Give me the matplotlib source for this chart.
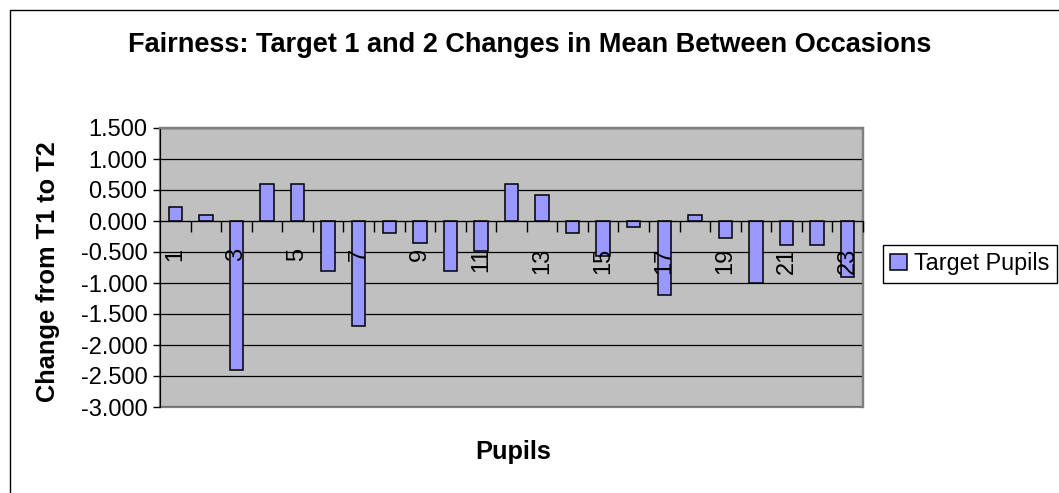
import matplotlib
matplotlib.use("Agg")
import matplotlib.pyplot as plt
import matplotlib.patches as mpatches
from matplotlib.ticker import FixedLocator, FuncFormatter

plt.rcParams["font.family"] = ["Liberation Sans", "DejaVu Sans"]

# change in mean score from occasion 1 to occasion 2, per pupil
pupils = list(range(1, 24))
change = [0.22, 0.10, -2.40, 0.60, 0.60, -0.80, -1.70, -0.20, -0.36, -0.80, -0.48, 0.60,
          0.42, -0.20, -0.57, -0.10, -1.20, 0.10, -0.28, -1.00, -0.38, -0.38, -0.90]
series_name = "Target Pupils"
y_ticks = [1.5, 1.0, 0.5, 0.0, -0.5, -1.0, -1.5, -2.0, -2.5, -3.0]

W, H = 1059, 493
fig = plt.figure(figsize=(W / 100, H / 100), dpi=100)

# chart area frame (open to the right and bottom)
fig.patches.append(mpatches.Rectangle((10 / W, -0.2), 1.2, 1.2 - 10 / H, transform=fig.transFigure,
                                      fill=False, ec="black", lw=1.0))

ax = fig.add_axes([160 / W, 1 - 407 / H, 703 / W, 279 / H])
ax.set_facecolor("#C0C0C0")

bars = ax.bar(pupils, change, width=0.44, color="#9999FF", edgecolor="black",
              linewidth=1.1, zorder=3, label=series_name)

ax.set_xlim(0.5, 23.5)
ax.set_ylim(-3.0, 1.5)

# gridlines sit behind the bars, axis labels in front
for yv in y_ticks:
    ax.axhline(yv, color="black", linewidth=0.9, zorder=1)
ax.xaxis.set_zorder(5)

# value axis
ax.yaxis.set_major_locator(FixedLocator(y_ticks))
ax.yaxis.set_major_formatter(FuncFormatter(lambda v, _: f"{v:.3f}"))
ax.tick_params(axis="y", direction="out", length=5, width=1, color="black",
               labelsize=17, pad=4)

# category axis crosses at zero
ax.spines["bottom"].set_position(("data", 0))
ax.spines["bottom"].set_color("black")
ax.spines["bottom"].set_zorder(4)
ax.xaxis.set_major_locator(FixedLocator(pupils))
ax.set_xticklabels([str(p) if p % 2 == 1 else "" for p in pupils], rotation=90,
                   fontsize=17, va="top", ha="center")
ax.tick_params(axis="x", which="major", length=0, pad=19)
ax.xaxis.set_minor_locator(FixedLocator([p + 0.5 for p in pupils]))
ax.tick_params(axis="x", which="minor", direction="out", length=8, width=1, color="black")

ax.spines["left"].set_color("black")
for side in ["top", "right"]:
    ax.spines[side].set_color("#808080")
    ax.spines[side].set_linewidth(1.6)

# plot area bottom edge
ax.add_patch(mpatches.Rectangle((0, 0), 1, 1, transform=ax.transAxes, fill=False,
                                ec="#808080", lw=1.6, zorder=0.5, clip_on=False))

fig.text(530 / W, 1 - 45 / H, "Fairness: Target 1 and 2 Changes in Mean Between Occasions",
         ha="center", va="center", fontsize=19.5, fontweight="bold")
fig.text(48 / W, 1 - 272 / H, "Change from T1 to T2", rotation=90, ha="center", va="center",
         fontsize=18.3, fontweight="bold")
fig.text(513 / W, 1 - 452 / H, "Pupils", ha="center", va="center", fontsize=18.3,
         fontweight="bold")

leg = fig.legend(handles=[bars], labels=[series_name], loc="upper left",
                 bbox_to_anchor=(883 / W, 1 - 245 / H), borderaxespad=0, fontsize=16.8,
                 frameon=True, fancybox=False, edgecolor="black", framealpha=1,
                 handlelength=0.7, handleheight=0.7, handletextpad=0.3, borderpad=0.32)
leg.get_frame().set_linewidth(1.0)

fig.savefig("out.png", dpi=100, facecolor="white")
